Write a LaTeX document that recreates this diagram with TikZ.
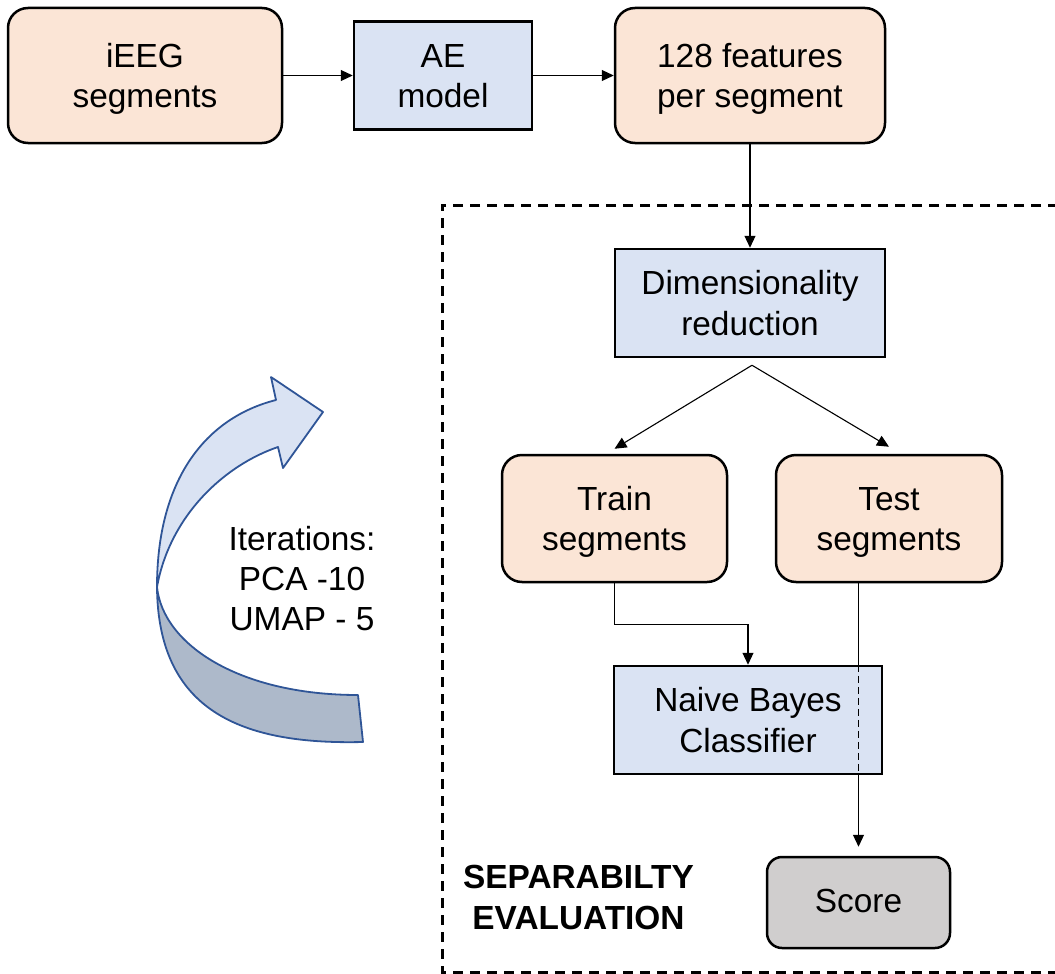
\documentclass[tikz,border=0pt]{standalone}
\usepackage{fontspec}
\setmainfont{Liberation Sans}
\usetikzlibrary{arrows.meta}
\definecolor{peach}{HTML}{FBE5D6}
\definecolor{paleblue}{HTML}{DAE3F3}
\definecolor{scoregray}{HTML}{D0CECE}
\definecolor{loopblue}{HTML}{DAE3F3}
\definecolor{loopgray}{HTML}{ADB9CA}
\definecolor{loopedge}{HTML}{2F5597}
\begin{document}
\begin{tikzpicture}[x=1pt,y=-1pt,
  txt/.style={font=\fontsize{33.4}{40.5}\selectfont, align=center},
  box/.style={txt, draw=black, line width=2.5pt, inner sep=0pt},
  twoline/.style={text height=71.5pt, text depth=7.5pt},
  oneline/.style={text height=27pt, text depth=7pt},
  datastep/.style={box, twoline, fill=peach, rounded corners=20pt},
  procstep/.style={box, twoline, fill=paleblue},
  conn/.style={line width=1.1pt, -{Triangle[length=12pt,width=11pt]}},
  loopedge/.style={draw=loopedge, line width=1.8pt, line join=round}
]
\useasboundingbox (0,0) rectangle (1055,974);

% evaluation frame (open to the right)
\draw[line width=3pt, dash pattern=on 10pt off 7pt]
  (1075,205) -- (442,205) -- (442,972) -- (1075,972);

% boxes
\node[datastep, minimum width=274pt, minimum height=135pt] (ieeg) at (145,75.5) {iEEG\\segments};
\node[procstep, minimum width=178pt, minimum height=108pt] (ae) at (443,75.5) {AE\\model};
\node[datastep, minimum width=270pt, minimum height=135pt] (feat) at (750,75.5) {128 features\\per segment};
\node[procstep, minimum width=270pt, minimum height=108pt] (dimred) at (750,303) {Dimensionality\\reduction};
\node[datastep, minimum width=225pt, minimum height=127pt] (train) at (614.5,518.5) {Train\\segments};
\node[datastep, minimum width=226pt, minimum height=127pt] (test) at (889,518.5) {Test\\segments};
\node[procstep, minimum width=268pt, minimum height=108pt] (nb) at (748,720) {Naive Bayes\\Classifier};
\node[box, oneline, fill=scoregray, rounded corners=15pt, minimum width=183pt, minimum height=91pt] (score) at (858.5,902.5) {Score};

\node[txt, text height=72pt, text depth=7pt, font=\fontsize{33.4}{41}\selectfont\bfseries] (sep) at (578.5,896.5) {SEPARABILTY\\EVALUATION};

% connectors
\draw[conn] (ieeg.east) -- (ae.west);
\draw[conn] (ae.east) -- (ae.east -| feat.west);
\draw[conn] (feat.south -| dimred.north) -- (dimred.north);
\draw[conn] ([xshift=2pt,yshift=-7pt]dimred.south) -- ([yshift=5pt]train.north);
\draw[conn] ([xshift=2pt,yshift=-7pt]dimred.south) -- ([yshift=7pt]test.north);
\draw[conn] (train.south) -- ++(0,41) -| (nb.north);
\coordinate (tdown) at (score.north |- test.south);
\draw[line width=1.1pt] (tdown) -- (tdown |- nb.north);
\draw[line width=1.1pt, dash pattern=on 7pt off 4pt] (tdown |- nb.north) -- (tdown |- nb.south);
\draw[conn] (tdown |- nb.south) -- ([yshift=9pt]score.north);

% iteration loop arrow: back face, then front face with head
\draw[loopedge, fill=loopgray]
  (157,587) .. controls (163,645) and (240,695) .. (358,695)
  -- (363,742) .. controls (240,745) and (158,710) .. (157,587) -- cycle;
\draw[loopedge, fill=loopblue]
  (157,587) .. controls (157,480) and (205,418) .. (276,400)
  -- (271,377) -- (323,412) -- (283,468) -- (278,447)
  .. controls (225,465) and (170,515) .. (157,587) -- cycle;

\node[txt, text height=111pt, text depth=7pt, font=\fontsize{33.4}{40}\selectfont] (iter) at (302,578) {Iterations:\\PCA -10\\UMAP - 5};
\end{tikzpicture}
\end{document}
